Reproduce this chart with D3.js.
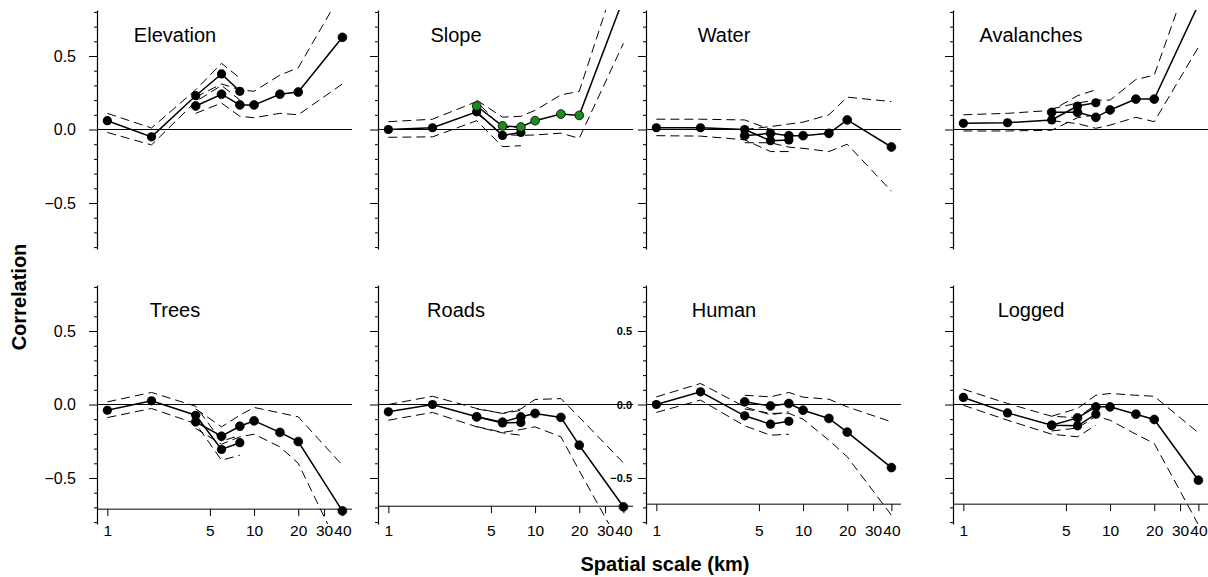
<!DOCTYPE html>
<html><head><meta charset="utf-8">
<script src="https://cdn.jsdelivr.net/npm/d3@7"></script>
<style>
html,body{margin:0;padding:0;background:#fff;}
svg{display:block;font-family:"Liberation Sans",Arial,Helvetica,sans-serif;}
</style></head>
<body><svg id="chart" width="1208" height="577"></svg>
<script>
// ---- data ----
const panelNames = ["Elevation","Slope","Water","Avalanches","Trees","Roads","Human","Logged"];
const scalesA = [1,2,4,6,8];
const scalesB = [4,6,8,10,15,20,40];
const xTickValues = [1,5,10,20,30,40];
const yMajorTicks = [-0.5,0,0.5];
const yMinorTicks = [-0.8,-0.7,-0.6,-0.4,-0.3,-0.2,-0.1,0.1,0.2,0.3,0.4,0.6,0.7,0.8];
const xAxisAt = [null,null,null,null,-0.712,-0.692,-0.678,-0.678];

const elevationA   = [0.06,-0.05,0.23,0.378,0.26];
const elevationAHi = [0.11,0.01,0.27,0.45,0.35];
const elevationALo = [-0.02,-0.105,0.19,0.30,0.20];
const elevationB   = [0.16,0.24,0.167,0.167,0.24,0.255,0.627];
const elevationBHi = [0.22,0.31,0.27,0.26,0.37,0.42,0.94];
const elevationBLo = [0.11,0.18,0.09,0.08,0.11,0.10,0.31];

const slopeA   = [0.0,0.012,0.12,-0.04,-0.02];
const slopeAHi = [0.053,0.07,0.19,0.01,0.02];
const slopeALo = [-0.053,-0.05,0.06,-0.117,-0.11];
const slopeB   = [0.16,0.024,0.017,0.06,0.105,0.096,0.89];
const slopeBHi = [0.2,0.084,0.09,0.13,0.235,0.26,1.18];
const slopeBLo = [0.11,-0.035,-0.04,-0.037,-0.025,-0.06,0.586];

const waterA   = [0.012,0.012,0.0,-0.076,-0.071];
const waterAHi = [0.07,0.07,0.065,0.0,0.0];
const waterALo = [-0.042,-0.045,-0.07,-0.15,-0.15];
const waterB   = [-0.042,-0.026,-0.042,-0.042,-0.026,0.065,-0.119];
const waterBHi = [0.0,0.02,0.037,0.05,0.10,0.22,0.19];
const waterBLo = [-0.09,-0.09,-0.12,-0.128,-0.15,-0.10,-0.42];

const avalanchesA   = [0.042,0.046,0.065,0.16,0.182];
const avalanchesAHi = [0.10,0.11,0.13,0.23,0.27];
const avalanchesALo = [-0.01,-0.01,-0.005,0.08,0.10];
const avalanchesB   = [0.117,0.117,0.083,0.133,0.207,0.207,0.85];
const avalanchesBHi = [0.14,0.18,0.20,0.20,0.34,0.37,1.22];
const avalanchesBLo = [0.06,0.04,0.008,0.03,0.083,0.053,0.56];

const treesA   = [-0.039,0.025,-0.073,-0.306,-0.26];
const treesAHi = [0.018,0.082,-0.012,-0.25,-0.21];
const treesALo = [-0.089,-0.027,-0.13,-0.379,-0.345];
const treesB   = [-0.118,-0.216,-0.148,-0.111,-0.19,-0.252,-0.724];
const treesBHi = [-0.03,-0.152,-0.073,-0.02,-0.057,-0.084,-0.413];
const treesBLo = [-0.163,-0.27,-0.22,-0.202,-0.288,-0.40,-1.02];

const roadsA   = [-0.05,0.0,-0.084,-0.125,-0.122];
const roadsAHi = [0.0,0.056,-0.027,-0.061,-0.04];
const roadsALo = [-0.107,-0.054,-0.152,-0.193,-0.209];
const roadsB   = [-0.084,-0.12,-0.084,-0.061,-0.088,-0.277,-0.696];
const roadsBHi = [-0.03,-0.06,-0.03,0.034,0.04,-0.086,-0.397];
const roadsBLo = [-0.15,-0.19,-0.17,-0.152,-0.22,-0.45,-0.99];

const humanA   = [0.0,0.086,-0.077,-0.134,-0.114];
const humanAHi = [0.052,0.143,-0.016,-0.07,-0.05];
const humanALo = [-0.054,0.03,-0.145,-0.209,-0.202];
const humanB   = [0.018,-0.01,0.007,-0.039,-0.095,-0.188,-0.429];
const humanBHi = [0.063,0.052,0.082,0.05,0.036,-0.016,-0.118];
const humanBLo = [-0.03,-0.06,-0.06,-0.10,-0.243,-0.356,-0.753];

const loggedA   = [0.048,-0.057,-0.141,-0.145,-0.066];
const loggedAHi = [0.104,0.007,-0.08,-0.09,0.0];
const loggedALo = [-0.005,-0.107,-0.202,-0.22,-0.141];
const loggedB   = [-0.141,-0.091,-0.016,-0.016,-0.066,-0.102,-0.515];
const loggedBHi = [-0.08,-0.027,0.063,0.075,0.063,0.056,-0.193];
const loggedBLo = [-0.18,-0.16,-0.08,-0.107,-0.202,-0.265,-0.818];

const seriesA = [elevationA,slopeA,waterA,avalanchesA,treesA,roadsA,humanA,loggedA];
const seriesAHi = [elevationAHi,slopeAHi,waterAHi,avalanchesAHi,treesAHi,roadsAHi,humanAHi,loggedAHi];
const seriesALo = [elevationALo,slopeALo,waterALo,avalanchesALo,treesALo,roadsALo,humanALo,loggedALo];
const seriesB = [elevationB,slopeB,waterB,avalanchesB,treesB,roadsB,humanB,loggedB];
const seriesBHi = [elevationBHi,slopeBHi,waterBHi,avalanchesBHi,treesBHi,roadsBHi,humanBHi,loggedBHi];
const seriesBLo = [elevationBLo,slopeBLo,waterBLo,avalanchesBLo,treesBLo,roadsBLo,humanBLo,loggedBLo];
const seriesBColor = ["#000","#1e8a1e","#000","#000","#000","#000","#000","#000"];

// ---- layout ----
const svg = d3.select("#chart");
const panelLeft = [97,378,646,953];
const rowTop = [10,285];
const panelH = 239, panelW = 255;
const yDom = [-0.813,0.813];

panelNames.forEach((name,i)=>{
  const col = i%4, row = Math.floor(i/4);
  const left = panelLeft[col], top = rowTop[row];
  const x = d3.scaleLog().domain([0.85,46.5]).range([left,left+panelW]);
  const y = d3.scaleLinear().domain(yDom).range([top+panelH,top]);
  const g = svg.append("g");

  // clip
  const cid = "clip"+i;
  svg.append("clipPath").attr("id",cid).append("rect")
     .attr("x",left).attr("y",top).attr("width",panelW+2).attr("height",panelH);

  // y axis major
  const yAx = d3.axisLeft(y).tickValues(yMajorTicks).tickSize(8).tickSizeOuter(0)
     .tickFormat(d3.format(".1f"));
  const ya = g.append("g").attr("transform",`translate(${left},0)`).call(yAx);
  ya.select(".domain").attr("stroke","#000").attr("stroke-width",1.2);
  ya.selectAll(".tick line").attr("stroke","#000").attr("stroke-width",1);
  if (col===0) {
    ya.selectAll(".tick text").attr("x",-21).attr("font-size",16).attr("fill","#000")
      .attr("font-family","Liberation Sans, Arial, sans-serif");
  } else if (name==="Human") {
    ya.selectAll(".tick text").attr("x",-14).attr("font-size",11).attr("font-weight","bold")
      .attr("fill","#000").attr("font-family","Liberation Sans, Arial, sans-serif");
  } else {
    ya.selectAll(".tick text").remove();
  }
  // minor ticks
  const yMin = d3.axisLeft(y).tickValues(yMinorTicks).tickSize(3).tickSizeOuter(0).tickFormat("");
  const ym = g.append("g").attr("transform",`translate(${left},0)`).call(yMin);
  ym.select(".domain").remove();
  ym.selectAll(".tick line").attr("stroke","#000").attr("stroke-width",1);

  // zero line
  g.append("line").attr("x1",left).attr("x2",left+panelW)
    .attr("y1",y(0)).attr("y2",y(0)).attr("stroke","#000").attr("stroke-width",1);

  // x axis for bottom row
  if (xAxisAt[i]!==null) {
    const ay = y(xAxisAt[i]);
    const xAx = d3.axisBottom(x).tickValues(xTickValues).tickSize(7).tickSizeOuter(0)
       .tickFormat(d3.format("d"));
    const xa = g.append("g").attr("transform",`translate(0,${ay})`).call(xAx);
    xa.select(".domain").attr("d",`M${left},0H${left+panelW}`).attr("stroke","#000").attr("stroke-width",1);
    xa.selectAll(".tick line").attr("stroke","#000");
    xa.selectAll(".tick text").attr("y",535.7-ay).attr("dy",0).attr("font-size",15.5)
      .attr("fill","#000").attr("font-family","Liberation Sans, Arial, sans-serif");
  }

  // title
  g.append("text").attr("x",left+78).attr("y",top+31.7).attr("text-anchor","middle")
    .attr("font-size",20).text(name);

  const plot = g.append("g").attr("clip-path",`url(#${cid})`);
  const line = d3.line().x(d=>x(d[0])).y(d=>y(d[1]));
  const zipA = arr => scalesA.map((s,k)=>[s,arr[k]]);
  const zipB = arr => scalesB.map((s,k)=>[s,arr[k]]);

  [seriesAHi[i],seriesALo[i]].forEach(a=>{
    plot.append("path").attr("d",line(zipA(a))).attr("fill","none").attr("stroke","#000")
      .attr("stroke-width",1).attr("stroke-dasharray","9,5");
  });
  [seriesBHi[i],seriesBLo[i]].forEach(a=>{
    plot.append("path").attr("d",line(zipB(a))).attr("fill","none").attr("stroke","#000")
      .attr("stroke-width",1).attr("stroke-dasharray","9,5");
  });
  plot.append("path").attr("d",line(zipA(seriesA[i]))).attr("fill","none")
    .attr("stroke","#000").attr("stroke-width",1.5);
  plot.append("path").attr("d",line(zipB(seriesB[i]))).attr("fill","none")
    .attr("stroke","#000").attr("stroke-width",1.5);
  plot.selectAll(".pa").data(zipA(seriesA[i])).enter().append("circle")
    .attr("cx",d=>x(d[0])).attr("cy",d=>y(d[1])).attr("r",4.6).attr("fill","#000");
  plot.selectAll(".pb").data(zipB(seriesB[i])).enter().append("circle")
    .attr("cx",d=>x(d[0])).attr("cy",d=>y(d[1])).attr("r",4.4)
    .attr("fill",seriesBColor[i]).attr("stroke","#000").attr("stroke-width",0.8);
});

// axis titles
svg.append("text").attr("transform","translate(26,297) rotate(-90)")
  .attr("text-anchor","middle").attr("font-size",20).attr("font-weight","bold").text("Correlation");
svg.append("text").attr("x",665).attr("y",571).attr("text-anchor","middle")
  .attr("font-size",20).attr("font-weight","bold").text("Spatial scale (km)");
</script></body></html>
